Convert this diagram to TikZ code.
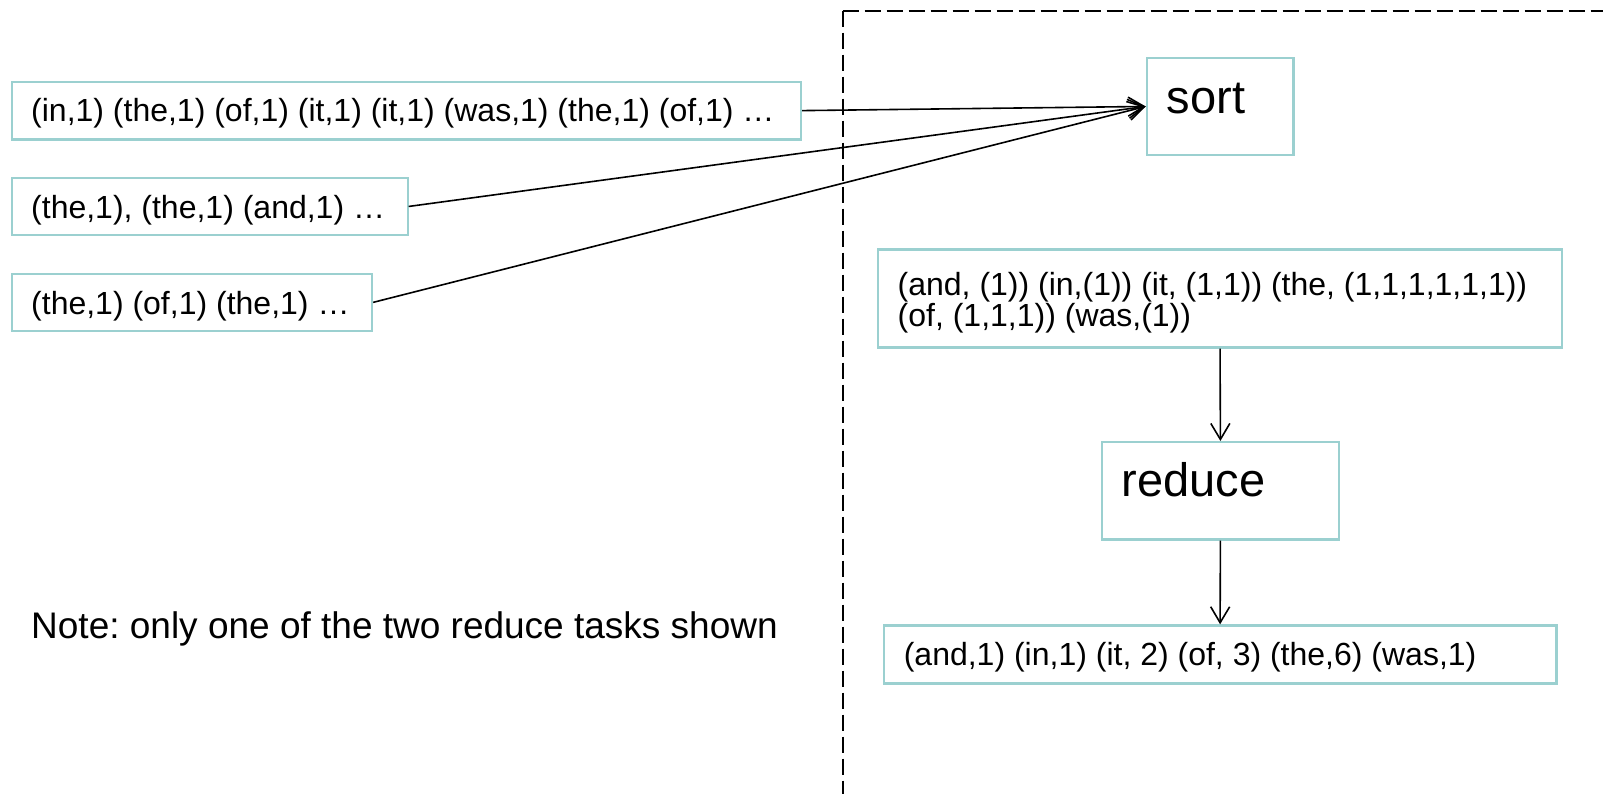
\documentclass[tikz,border=0pt]{standalone}
\usepackage{fontspec}
\setmainfont{Liberation Sans}
\usetikzlibrary{arrows.meta}
\definecolor{boxteal}{RGB}{155,208,208}
\frenchspacing
\begin{document}
\begin{tikzpicture}[x=1pt,y=-1pt,
  box/.style={draw=boxteal, line width=2.2pt, inner sep=0pt, anchor=north west},
  small/.style={anchor=base west, inner sep=0pt, font=\fontsize{32}{32}\selectfont},
  big/.style={anchor=base west, inner sep=0pt, font=\fontsize{47}{47}\selectfont},
  notetext/.style={anchor=base west, inner sep=0pt, font=\fontsize{37}{37}\selectfont},
  flow/.style={draw, line width=1.6pt, -{Straight Barb[length=16pt,width=19pt,line width=1.6pt]}},
  frame/.style={draw, line width=2.2pt, dash pattern=on 16pt off 6pt},
]
\useasboundingbox (0,0) rectangle (1603,793);

% reduce-side boundary (top and left edges, running off the page)
\coordinate (frameTR) at (1615,10.7);
\coordinate (frameTL) at (842.7,10.7);
\coordinate (frameBL) at (842.7,805);
\draw[frame] (frameTL) -- (frameTR);
\draw[frame] (frameTL) -- (frameBL);

% map outputs
\node[box, minimum width=789pt, minimum height=57.6pt] (m1) at (11,80.7) {};
\node[small] (m1txt) at (31,121.7) {(in,1) (the,1) (of,1) (it,1) (it,1) (was,1) (the,1) (of,1) …};
\node[box, minimum width=395.5pt, minimum height=57.3pt] (m2) at (11,176.7) {};
\node[small] (m2txt) at (31,218.3) {(the,1), (the,1) (and,1) …};
\node[box, minimum width=360pt, minimum height=57.5pt] (m3) at (11,272.5) {};
\node[small] (m3txt) at (31,314.5) {(the,1) (of,1) (the,1) …};

% sort step
\node[box, minimum width=146.6pt, minimum height=97.3pt] (sortbox) at (1145.7,56.7) {};
\node[big] (sorttxt) at (1166.7,113.3) {sort};

% grouped values
\node[box, minimum width=684.5pt, minimum height=98pt] (grouped) at (876.7,248.3) {};
\node[small] (groupedA) at (897.5,295) {(and, (1)) (in,(1)) (it, (1,1)) (the, (1,1,1,1,1,1))};
\node[small] (groupedB) at (897.5,326.7) {(of, (1,1,1)) (was,(1))};

% reduce step
\node[box, minimum width=237pt, minimum height=97.3pt] (reducebox) at (1100.8,441) {};
\node[big] (reducetxt) at (1121.6,496.7) {reduce};

% final counts
\node[box, minimum width=672.6pt, minimum height=58pt] (result) at (882.7,624.3) {};
\node[small] (resulttxt) at (903.6,665) {(and,1) (in,1) (it, 2) (of, 3) (the,6) (was,1)};

% note
\node[notetext] (note) at (31,638.3) {Note: only one of the two reduce tasks shown};

% connectors
\draw[flow] (m1.east) -- (sortbox.west);
\draw[flow] (m2.east) -- (sortbox.west);
\draw[flow] (m3.east) -- (sortbox.west);
\draw[flow] (grouped.south) -- (reducebox.north);
\draw[flow] (reducebox.south) -- (result.north);
\end{tikzpicture}
\end{document}
